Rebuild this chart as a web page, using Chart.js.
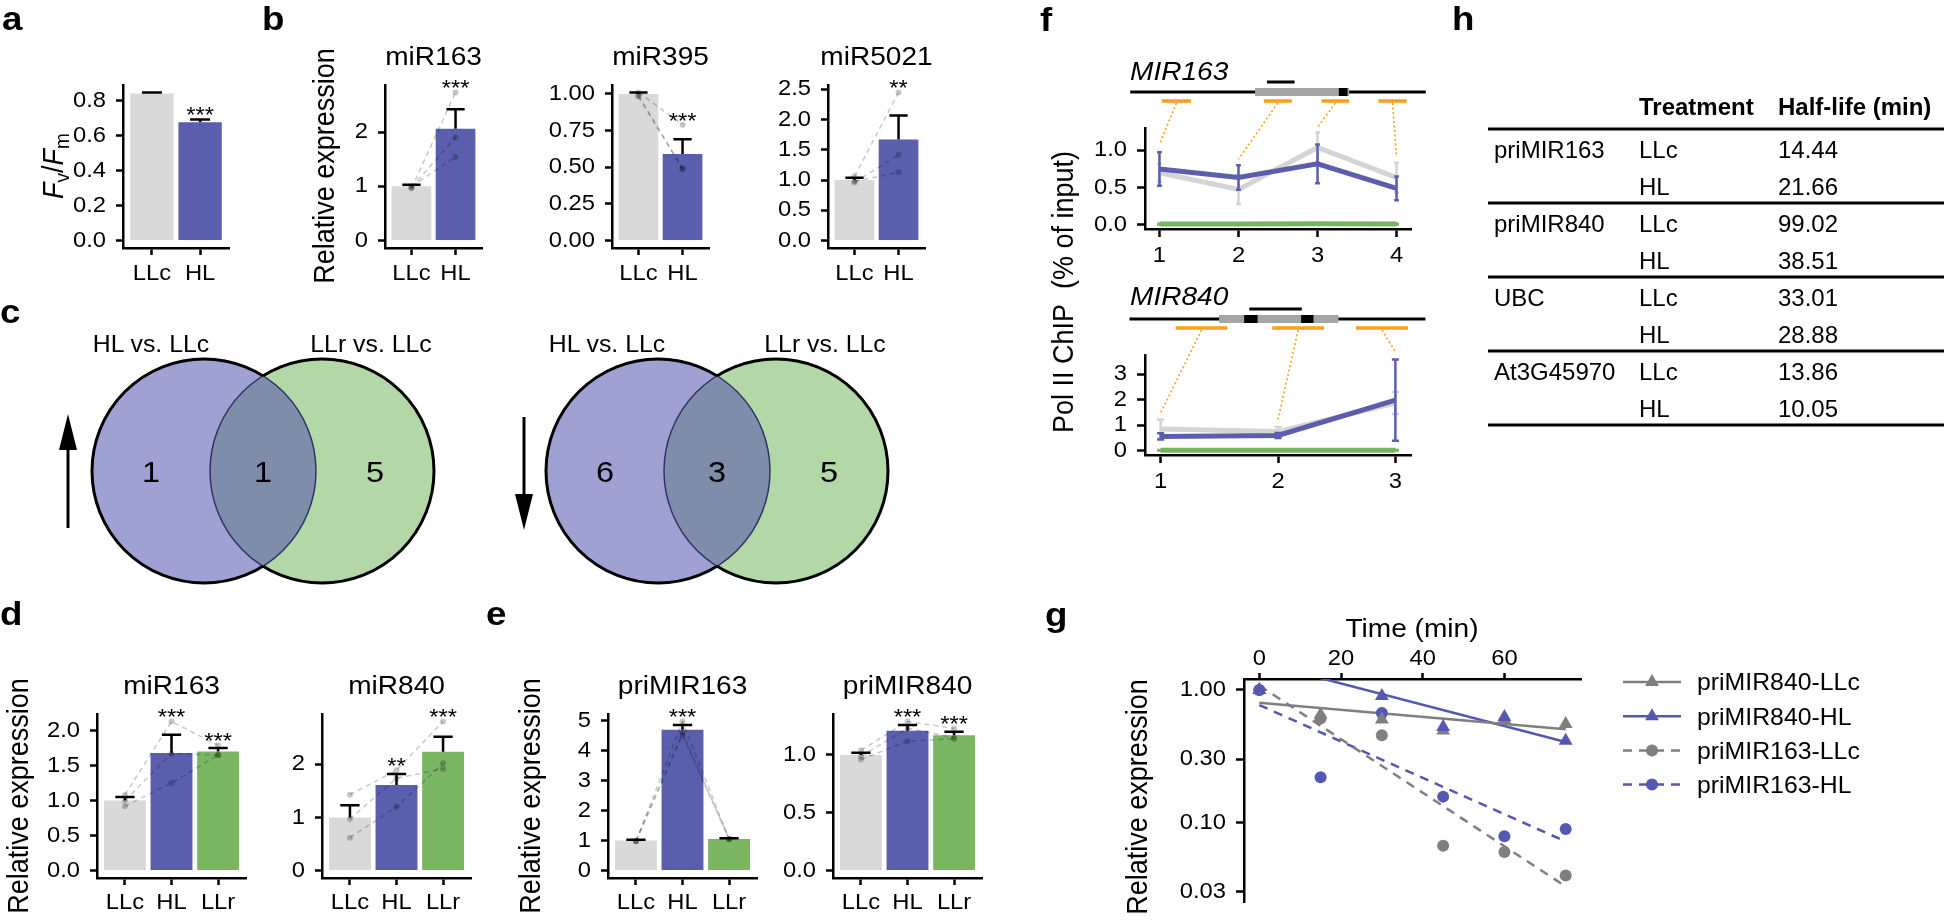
<!DOCTYPE html>
<html lang="en">
<head>
<meta charset="UTF-8">
<title>High light, miRNA expression and pri-miRNA stability</title>
<script src="https://cdn.jsdelivr.net/npm/chart.js"></script>
<style>
  body { margin: 0; background: #fff; }
  #stage { position: relative; width: 1944px; height: 923px; overflow: hidden; background: #fff; }
  #stage canvas { position: absolute; }
  #overlay { position: absolute; left: 0; top: 0; }
  #overlay text { font-family: "Liberation Sans", Arial, sans-serif; fill: #000; }
</style>
</head>
<body>
<div id="stage">
<svg id="overlay" width="1944" height="923" xmlns="http://www.w3.org/2000/svg">
  <line x1="68" y1="528" x2="68" y2="445" stroke="#000" stroke-width="3"/>
  <polygon points="68,414 59,450 77,450" fill="#000"/>
  <line x1="524" y1="417" x2="524" y2="500" stroke="#000" stroke-width="3"/>
  <polygon points="524,530 515,494 533,494" fill="#000"/>
</svg>
</div>
<script>
// ---------------- data ----------------
const grp2 = ['LLc', 'HL'];
const grp3 = ['LLc', 'HL', 'LLr'];

// a: Fv/Fm
const aMean = [0.840, 0.675];
const aSe = [0.006, 0.017];
const aSig = ['', '***'];
const aTicks = [0, 0.2, 0.4, 0.6, 0.8];
const aTickLabels = ['0.0', '0.2', '0.4', '0.6', '0.8'];

// b: mature miRNAs (reps: per group, three replicates)
const bTitles = ['miR163', 'miR395', 'miR5021'];
const b163Mean = [1.00, 2.06];
const b163Se = [0.03, 0.36];
const b163Reps = [[0.96, 0.98, 1.00], [2.73, 1.90, 1.54]];
const b163Sig = ['', '***'];
const b163Ticks = [0, 1, 2];
const b163TickLabels = ['0', '1', '2'];
const b395Mean = [1.00, 0.59];
const b395Se = [0.01, 0.10];
const b395Reps = [[1.01, 0.98, 0.99], [0.79, 0.49, 0.49]];
const b395Sig = ['', '***'];
const b395Ticks = [0, 0.25, 0.5, 0.75, 1];
const b395TickLabels = ['0.00', '0.25', '0.50', '0.75', '1.00'];
const b5021Mean = [1.00, 1.67];
const b5021Se = [0.04, 0.40];
const b5021Reps = [[1.06, 0.96, 0.98], [2.45, 1.42, 1.13]];
const b5021Sig = ['', '**'];
const b5021Ticks = [0, 0.5, 1, 1.5, 2, 2.5];
const b5021TickLabels = ['0.0', '0.5', '1.0', '1.5', '2.0', '2.5'];

// c: Venn counts [only left, shared, only right]
const vennSets = ['HL vs. LLc', 'LLr vs. LLc'];
const vennUp = [1, 1, 5];
const vennDown = [6, 3, 5];

// d: mature miRNAs incl. recovery
const dTitles = ['miR163', 'miR840'];
const d163Mean = [1.00, 1.68, 1.70];
const d163Se = [0.05, 0.26, 0.05];
const d163Reps = [[1.08, 1.00, 0.92], [2.13, 1.67, 1.25], [1.79, 1.65, 1.65]];
const d163Sig = ['', '***', '***'];
const d163Ticks = [0, 0.5, 1, 1.5, 2];
const d163TickLabels = ['0.0', '0.5', '1.0', '1.5', '2.0'];
const d840Mean = [1.00, 1.61, 2.24];
const d840Se = [0.23, 0.21, 0.28];
const d840Reps = [[1.43, 0.97, 0.62], [1.89, 1.74, 1.20], [2.81, 1.92, 2.02]];
const d840Sig = ['', '**', '***'];
const d840Ticks = [0, 1, 2];
const d840TickLabels = ['0', '1', '2'];

// e: pri-miRNAs
const eTitles = ['priMIR163', 'priMIR840'];
const e163Mean = [1.00, 4.70, 1.05];
const e163Se = [0.03, 0.16, 0.03];
const e163Reps = [[0.98, 0.99, 0.98], [4.98, 4.60, 4.52], [1.05, 1.06, 1.05]];
const e163Sig = ['', '***', ''];
const e163Ticks = [0, 1, 2, 3, 4, 5];
const e163TickLabels = ['0', '1', '2', '3', '4', '5'];
const e840Mean = [1.00, 1.21, 1.17];
const e840Se = [0.02, 0.05, 0.03];
const e840Reps = [[1.04, 0.99, 0.96], [1.29, 1.23, 1.12], [1.23, 1.15, 1.14]];
const e840Sig = ['', '***', '***'];
const e840Ticks = [0, 0.5, 1];
const e840TickLabels = ['0.0', '0.5', '1.0'];

// f: Pol II ChIP
const f163Sites = [1, 2, 3, 4];
const f163LLc = [0.70, 0.475, 1.04, 0.635];
const f163LLcSe = [0.12, 0.195, 0.20, 0.20];
const f163HL = [0.75, 0.635, 0.82, 0.49];
const f163HLSe = [0.225, 0.165, 0.26, 0.16];
const f163LLr = [0.01, 0.01, 0.015, 0.01];
const f163LLrSe = [0.005, 0.005, 0.005, 0.005];
const f163Ticks = [0, 0.5, 1];
const f163TickLabels = ['0.0', '0.5', '1.0'];
const f840Sites = [1, 2, 3];
const f840LLc = [0.85, 0.75, 1.87];
const f840LLcSe = [0.37, 0.18, 0.43];
const f840HL = [0.56, 0.595, 1.98];
const f840HLSe = [0.12, 0.10, 1.59];
const f840LLr = [0.02, 0.02, 0.02];
const f840LLrSe = [0.01, 0.01, 0.01];
const f840Ticks = [0, 1, 2, 3];
const f840TickLabels = ['0', '1', '2', '3'];

// gene maps drawn above the ChIP plots (in site units)
const mir163Map = { span: [0.63, 4.37], transcript: [[2.21, 3.40]], hairpin: [[3.27, 3.38]], probe: [2.36, 2.71],
  amplicons: [[1.03, 1.40], [2.32, 2.675], [3.05, 3.40], [3.77, 4.13]], reach: [1.08, 0.88, 1.31, 0.91] };
const mir840Map = { span: [0.735, 3.256], transcript: [[1.498, 2.515]], hairpin: [[1.712, 1.826], [2.197, 2.302]], probe: [1.755, 2.203],
  amplicons: [[1.128, 1.57], [1.951, 2.393], [2.664, 3.108]], reach: [1.48, 1.22, 3.87] };

// g: decay after cordycepin
const gSeries = ['priMIR840-LLc', 'priMIR840-HL', 'priMIR163-LLc', 'priMIR163-HL'];
const gTime = [0, 15, 30, 45, 60, 75];
const g840LLc = [1.00, 0.65, 0.60, 0.494, 0.60, 0.555];
const g840HL = [1.00, null, 0.90, 0.525, 0.625, 0.415];
const g163LLc = [1.00, 0.61, 0.455, 0.067, 0.060, 0.040];
const g163HL = [1.00, 0.22, 0.67, 0.157, 0.079, 0.0895];
const gFitTime = [0, 75];
const g840LLcFit = [0.80, 0.505];
const g840HLFit = [1.62, 0.405];
const g163LLcFit = [1.08, 0.033];
const g163HLFit = [0.77, 0.072];
const gXTicks = [0, 20, 40, 60];
const gXTickLabels = ['0', '20', '40', '60'];
const gYTicks = [0.03, 0.1, 0.3, 1];
const gYTickLabels = ['0.03', '0.10', '0.30', '1.00'];

// h: half-life table
const hHead = ['Treatment', 'Half-life (min)'];
const hGenes = ['priMIR163', 'priMIR840', 'UBC', 'At3G45970'];
const hTreat = ['LLc', 'HL'];
const hHalfLife = [[14.44, 21.66], [99.02, 38.51], [33.01, 28.88], [13.86, 10.05]];

// ---------------- style ----------------
const FONT = '"Liberation Sans", Arial, sans-serif';
const STRETCH = 1.08;            // the printed figure is slightly wider than tall
const GREY = '#d9d9d9', BLUE = '#5a5ead', GREEN = '#7bb662';
const BAR_COLORS = [GREY, BLUE, GREEN];
const REP = 'rgba(0,0,0,0.22)';
const ORANGE = '#f9a11c';
const AXIS = { display: true, color: '#000', width: 2.5 };

Chart.defaults.font.family = FONT;
Chart.defaults.font.size = 22;
Chart.defaults.color = '#000';
Chart.defaults.animation = false;
Chart.defaults.responsive = false;
Chart.defaults.events = [];
Chart.defaults.layout.autoPadding = false;
Chart.defaults.plugins.legend.display = false;
Chart.defaults.plugins.tooltip.enabled = false;

// widen tick labels the same way as the rest of the lettering
Chart.register({
  id: 'stretchLabels',
  beforeDraw(chart) {
    Object.values(chart.scales).forEach(s => {
      if (s._stretched) return;
      const orig = s.drawLabels;
      s.drawLabels = function (area) {
        const ctx = this.ctx, rot = CanvasRenderingContext2D.prototype.rotate;
        ctx.rotate = function (a) { rot.call(this, a); this.scale(STRETCH, 1); };
        try { orig.call(this, area); } finally { delete ctx.rotate; }
      };
      s._stretched = true;
    });
  }
});

const stage = document.getElementById('stage');
const overlay = document.getElementById('overlay');

function makeCanvas(box, m) {
  const cv = document.createElement('canvas');
  cv.width = box.r - box.l + m.l + m.r;
  cv.height = box.b - box.t + m.t + m.b;
  cv.style.left = (box.l - m.l) + 'px';
  cv.style.top = (box.t - m.t) + 'px';
  stage.insertBefore(cv, overlay);
  return cv;
}

function svgEl(tag, attrs, text) {
  const e = document.createElementNS('http://www.w3.org/2000/svg', tag);
  for (const k in attrs) e.setAttribute(k, attrs[k]);
  if (text != null) e.textContent = text;
  overlay.appendChild(e);
  return e;
}

function txt(x, y, str, attrs, rot, sx) {
  const tr = `translate(${x},${y}) scale(${sx || STRETCH},1)` + (rot ? ` rotate(${rot})` : '');
  return svgEl('text', Object.assign({ x: 0, y: 0, transform: tr }, attrs || {}), str);
}

function canvasText(ctx, s, x, y, font) {
  ctx.save();
  ctx.font = font;
  ctx.fillStyle = '#000';
  ctx.textAlign = 'center';
  ctx.textBaseline = 'alphabetic';
  ctx.translate(x, y);
  ctx.scale(STRETCH, 1);
  ctx.fillText(s, 0, 0);
  ctx.restore();
}

function tickGrid(len) {
  return { display: true, drawOnChartArea: false, drawTicks: true, tickLength: len, tickWidth: 2.5, tickColor: '#000', offset: false };
}

function fixedAxis(type, min, max, values, labels, size, tl, pad, extra) {
  const horiz = extra && extra.horizontal;
  return Object.assign({
    type, min, max, bounds: 'data', offset: false,
    afterBuildTicks: s => { s.ticks = values.map(v => ({ value: v })); },
    afterFit: s => { if (horiz) s.height = size; else s.width = size; },
    ticks: { autoSkip: false, maxRotation: 0, padding: pad, callback: (v, i) => labels[i], font: { size: 22, lineHeight: 1 } },
    grid: tickGrid(tl),
    border: AXIS
  }, extra || {});
}

// ---------------- lettering ----------------
[['a', 2, 30], ['b', 262, 30], ['c', 0, 323], ['d', 0, 625], ['e', 486, 625], ['f', 1040, 31], ['g', 1045, 626], ['h', 1452, 30]]
  .forEach(([s, x, y]) => txt(x, y, s, { 'font-size': 34, 'font-weight': 'bold' }));
const yTitle = { 'font-size': 27, 'text-anchor': 'middle' };
txt(63, 166, '', yTitle, -90).innerHTML =
  '<tspan font-style="italic">F</tspan><tspan font-size="19" dy="6">v</tspan><tspan dy="-6">/</tspan><tspan font-style="italic">F</tspan><tspan font-size="19" dy="6">m</tspan>';
txt(334, 166, 'Relative expression', yTitle, -90);
txt(28, 796, 'Relative expression', yTitle, -90);
txt(540, 796, 'Relative expression', yTitle, -90);
txt(1073, 292, 'Pol II ChIP\u00a0\u00a0(% of input)', yTitle, -90);
txt(1147, 797, 'Relative expression', yTitle, -90);
txt(1130, 80, 'MIR163', { 'font-size': 26, 'font-style': 'italic' });
txt(1130, 305, 'MIR840', { 'font-size': 26, 'font-style': 'italic' });
txt(1412, 637, 'Time (min)', { 'font-size': 26, 'text-anchor': 'middle' });
[[151, 0], [371, 1], [607, 0], [825, 1]].forEach(([x, k]) => txt(x, 352, vennSets[k], { 'font-size': 23, 'text-anchor': 'middle' }));

// ---------------- bar panels (a, b, d, e) ----------------
function barErrPlugin(mean, se) {
  return {
    id: 'barErr',
    afterDatasetDraw(chart, args) {
      if (args.meta.type !== 'bar') return;
      const ctx = chart.ctx, ys = chart.scales.y;
      ctx.save();
      ctx.strokeStyle = '#000';
      ctx.lineWidth = 2.5;
      args.meta.data.forEach((el, i) => {
        const yt = ys.getPixelForValue(mean[i] + se[i]);
        const hw = el.width * 0.23;
        ctx.beginPath();
        ctx.moveTo(el.x, el.y); ctx.lineTo(el.x, yt);
        ctx.moveTo(el.x - hw, yt); ctx.lineTo(el.x + hw, yt);
        ctx.stroke();
      });
      ctx.restore();
    }
  };
}

function sigPlugin(mean, se, reps, sig) {
  return {
    id: 'sig',
    afterDatasetsDraw(chart) {
      const ys = chart.scales.y, bars = chart.getDatasetMeta(0).data;
      sig.forEach((s, i) => {
        if (!s) return;
        const top = Math.max(mean[i] + se[i], ...(reps[i] || []));
        canvasText(chart.ctx, s, bars[i].x, ys.getPixelForValue(top) + 3, '22px ' + FONT);
      });
    }
  };
}

function barPanel(box, cats, mean, se, reps, sig, ticks, tickLabels, xPad, title) {
  const m = { l: 100, t: 30, r: 24, b: 50 };
  const cv = makeCanvas(box, m);
  let top = 0;
  cats.forEach((c, i) => { top = Math.max(top, mean[i] + se[i], ...(reps[i] || [])); });
  const sets = [{
    type: 'bar', order: 2,
    data: cats.map((c, i) => ({ x: i + 1, y: mean[i] })),
    backgroundColor: BAR_COLORS.slice(0, cats.length),
    barPercentage: 0.9, categoryPercentage: 1
  }];
  const nRep = reps.length ? reps[0].length : 0;
  for (let r = 0; r < nRep; r++) {
    sets.push({
      type: 'line', order: 1,
      data: cats.map((c, i) => ({ x: i + 1, y: reps[i][r] })),
      borderColor: REP, borderWidth: 1.5, borderDash: [5, 4], tension: 0,
      pointRadius: 3, pointBackgroundColor: REP, pointBorderWidth: 0
    });
  }
  if (title) txt((box.l + box.r) / 2, box.t - 20, title, { 'font-size': 26, 'text-anchor': 'middle' });
  return new Chart(cv, {
    type: 'bar',
    data: { datasets: sets },
    options: {
      layout: { padding: { top: m.t, right: m.r, left: 0, bottom: 0 } },
      scales: {
        x: fixedAxis('linear', 0.4, cats.length + 0.6, cats.map((c, i) => i + 1), cats, m.b, 7, xPad, { horizontal: true, grid: tickGrid(7) }),
        y: fixedAxis('linear', -0.05 * top, 1.05 * top, ticks, tickLabels, m.l, 7, 10)
      }
    },
    plugins: [barErrPlugin(mean, se), sigPlugin(mean, se, reps, sig)]
  });
}

barPanel({ l: 123, t: 85, r: 229, b: 248 }, grp2, aMean, aSe, [], aSig, aTicks, aTickLabels, 8);
barPanel({ l: 385, t: 85, r: 482, b: 248 }, grp2, b163Mean, b163Se, b163Reps, b163Sig, b163Ticks, b163TickLabels, 8, bTitles[0]);
barPanel({ l: 612, t: 85, r: 709, b: 248 }, grp2, b395Mean, b395Se, b395Reps, b395Sig, b395Ticks, b395TickLabels, 8, bTitles[1]);
barPanel({ l: 828, t: 85, r: 925, b: 248 }, grp2, b5021Mean, b5021Se, b5021Reps, b5021Sig, b5021Ticks, b5021TickLabels, 8, bTitles[2]);
barPanel({ l: 97, t: 714, r: 246, b: 878 }, grp3, d163Mean, d163Se, d163Reps, d163Sig, d163Ticks, d163TickLabels, 7, dTitles[0]);
barPanel({ l: 322, t: 714, r: 471, b: 878 }, grp3, d840Mean, d840Se, d840Reps, d840Sig, d840Ticks, d840TickLabels, 7, dTitles[1]);
barPanel({ l: 608, t: 714, r: 757, b: 878 }, grp3, e163Mean, e163Se, e163Reps, e163Sig, e163Ticks, e163TickLabels, 7, eTitles[0]);
barPanel({ l: 833, t: 714, r: 982, b: 878 }, grp3, e840Mean, e840Se, e840Reps, e840Sig, e840Ticks, e840TickLabels, 7, eTitles[1]);

// ---------------- c: Venn diagrams ----------------
function vennPlugin(counts) {
  return {
    id: 'venn',
    afterDatasetsDraw(chart) {
      const ctx = chart.ctx, els = chart.getDatasetMeta(0).data;
      const a = els[0], b = els[1], ra = a.options.radius, rb = b.options.radius;
      const circ = (e, r) => { ctx.beginPath(); ctx.arc(e.x, e.y, r, 0, Math.PI * 2); };
      ctx.save(); circ(a, ra); ctx.clip(); circ(b, rb);
      ctx.fillStyle = '#7f8caa'; ctx.fill();
      ctx.strokeStyle = '#2f3468'; ctx.lineWidth = 1.5; ctx.stroke(); ctx.restore();
      ctx.save(); circ(b, rb); ctx.clip(); circ(a, ra);
      ctx.strokeStyle = '#2f3468'; ctx.lineWidth = 1.5; ctx.stroke(); ctx.restore();
      [[a, ra, b, rb], [b, rb, a, ra]].forEach(([p, rp, q, rq]) => {
        ctx.save();
        ctx.beginPath();
        ctx.rect(0, 0, chart.width, chart.height);
        ctx.arc(q.x, q.y, rq, 0, Math.PI * 2);
        ctx.clip('evenodd');
        circ(p, rp);
        ctx.strokeStyle = '#000'; ctx.lineWidth = 3; ctx.stroke();
        ctx.restore();
      });
      const xs = [((a.x - ra) + (b.x - rb)) / 2, ((b.x - rb) + (a.x + ra)) / 2, ((a.x + ra) + (b.x + rb)) / 2];
      counts.forEach((n, i) => canvasText(ctx, String(n), xs[i], a.y + 11, '30px ' + FONT));
    }
  };
}

function vennPanel(box, counts) {
  const cv = makeCanvas(box, { l: 0, t: 0, r: 0, b: 0 });
  return new Chart(cv, {
    type: 'bubble',
    data: { datasets: [{ data: [{ x: -0.5, y: 0, r: 112 }, { x: 0.5, y: 0, r: 112 }], backgroundColor: ['#a0a1d3', '#b3d7a6'], borderWidth: 0, clip: false }] },
    options: {
      layout: { padding: 0, autoPadding: false },
      scales: { x: { type: 'linear', min: -1.5, max: 1.5, display: false }, y: { type: 'linear', min: -1, max: 1, display: false } }
    },
    plugins: [vennPlugin(counts)]
  });
}
vennPanel({ l: 86, t: 353, r: 440, b: 589 }, vennUp);
vennPanel({ l: 540, t: 353, r: 894, b: 589 }, vennDown);

// ---------------- f: Pol II ChIP ----------------
function chipErrPlugin(groups) {
  return {
    id: 'chipErr',
    afterDatasetDraw(chart, args) {
      const g = groups[args.index], ctx = chart.ctx, xs = chart.scales.x, ys = chart.scales.y;
      ctx.save();
      ctx.strokeStyle = g.color; ctx.lineWidth = 2.5;
      g.mean.forEach((v, i) => {
        const x = xs.getPixelForValue(g.x[i]);
        const hw = xs.getPixelForValue(g.x[i] + 0.03) - x;
        const y1 = ys.getPixelForValue(v - g.se[i]), y2 = ys.getPixelForValue(v + g.se[i]);
        ctx.beginPath();
        ctx.moveTo(x, y1); ctx.lineTo(x, y2);
        ctx.moveTo(x - hw, y1); ctx.lineTo(x + hw, y1);
        ctx.moveTo(x - hw, y2); ctx.lineTo(x + hw, y2);
        ctx.stroke();
      });
      ctx.restore();
    }
  };
}

function genePlugin(map, sites) {
  return {
    id: 'gene',
    afterDraw(chart) {
      const ctx = chart.ctx, xs = chart.scales.x, ys = chart.scales.y, top = chart.chartArea.top;
      const px = v => xs.getPixelForValue(v);
      const yLine = top - 36, yProbe = top - 46, yAmp = top - 27;
      ctx.save();
      ctx.strokeStyle = ORANGE; ctx.lineWidth = 1.6; ctx.setLineDash([2, 2.5]);
      map.amplicons.forEach((a, i) => {
        ctx.beginPath();
        ctx.moveTo(px((a[0] + a[1]) / 2), yAmp + 2);
        ctx.lineTo(px(sites[i]), ys.getPixelForValue(map.reach[i]));
        ctx.stroke();
      });
      ctx.setLineDash([]);
      ctx.strokeStyle = '#000'; ctx.lineWidth = 3;
      ctx.beginPath(); ctx.moveTo(px(map.span[0]), yLine); ctx.lineTo(px(map.span[1]), yLine); ctx.stroke();
      ctx.fillStyle = '#a5a5a5';
      map.transcript.forEach(s => ctx.fillRect(px(s[0]), yLine - 4, px(s[1]) - px(s[0]), 8));
      ctx.fillStyle = '#000';
      map.hairpin.forEach(s => ctx.fillRect(px(s[0]), yLine - 4, px(s[1]) - px(s[0]), 8));
      ctx.beginPath(); ctx.moveTo(px(map.probe[0]), yProbe); ctx.lineTo(px(map.probe[1]), yProbe); ctx.stroke();
      ctx.strokeStyle = ORANGE; ctx.lineWidth = 3.5;
      map.amplicons.forEach(a => { ctx.beginPath(); ctx.moveTo(px(a[0]), yAmp); ctx.lineTo(px(a[1]), yAmp); ctx.stroke(); });
      ctx.restore();
    }
  };
}

function chipPanel(box, sites, groups, ticks, tickLabels, map) {
  const m = { l: 100, t: 75, r: 30, b: 48 };
  const cv = makeCanvas(box, m);
  let lo = Infinity, hi = -Infinity;
  groups.forEach(g => g.mean.forEach((v, i) => { lo = Math.min(lo, v - g.se[i]); hi = Math.max(hi, v + g.se[i]); }));
  const yPad = 0.05 * (hi - lo);
  const xLo = sites[0] - 0.03, xHi = sites[sites.length - 1] + 0.03, xPad = 0.05 * (xHi - xLo);
  groups.forEach(g => { g.x = sites; });
  return new Chart(cv, {
    type: 'line',
    data: {
      datasets: groups.map(g => ({
        data: sites.map((s, i) => ({ x: s, y: g.mean[i] })),
        borderColor: g.color, borderWidth: 5, pointRadius: 0, tension: 0, order: g.order
      }))
    },
    options: {
      layout: { padding: { top: m.t, right: m.r, left: 0, bottom: 0 } },
      scales: {
        x: fixedAxis('linear', xLo - xPad, xHi + xPad, sites, sites.map(String), m.b, 8, 8, { horizontal: true, grid: tickGrid(8) }),
        y: fixedAxis('linear', lo - yPad, hi + yPad, ticks, tickLabels, m.l, 8, 10)
      }
    },
    plugins: [chipErrPlugin(groups), genePlugin(map, sites)]
  });
}

chipPanel({ l: 1145, t: 128, r: 1411, b: 229 }, f163Sites, [
  { mean: f163HL, se: f163HLSe, color: BLUE, order: 0 },
  { mean: f163LLc, se: f163LLcSe, color: '#d4d4d4', order: 1 },
  { mean: f163LLr, se: f163LLrSe, color: '#77b462', order: 2 }
], f163Ticks, f163TickLabels, mir163Map);

chipPanel({ l: 1145, t: 355, r: 1411, b: 455 }, f840Sites, [
  { mean: f840HL, se: f840HLSe, color: BLUE, order: 0 },
  { mean: f840LLc, se: f840LLcSe, color: '#d4d4d4', order: 1 },
  { mean: f840LLr, se: f840LLrSe, color: '#77b462', order: 2 }
], f840Ticks, f840TickLabels, mir840Map);

// ---------------- g: decay ----------------
const G_GREY = '#7f7f7f', G_BLUE = '#5558b0';
const gStyle = [
  { color: G_GREY, shape: 'triangle', r: 8, dash: [] },
  { color: G_BLUE, shape: 'triangle', r: 8, dash: [] },
  { color: G_GREY, shape: 'circle', r: 6, dash: [9, 7] },
  { color: G_BLUE, shape: 'circle', r: 6, dash: [9, 7] }
];
(function () {
  const box = { l: 1244, t: 679, r: 1581, b: 915 };
  const m = { l: 130, t: 50, r: 10, b: 8 };
  const cv = makeCanvas(box, m);
  const pts = [g840LLc, g840HL, g163LLc, g163HL];
  const fits = [g840LLcFit, g840HLFit, g163LLcFit, g163HLFit];
  const pointOrder = [1, 0, 3, 2];
  const sets = [];
  pts.forEach((vals, k) => sets.push({
    data: gTime.map((t, i) => ({ x: t, y: vals[i] })),
    showLine: false, pointStyle: gStyle[k].shape, pointRadius: gStyle[k].r,
    pointBackgroundColor: gStyle[k].color, pointBorderWidth: 0, order: pointOrder[k]
  }));
  fits.forEach((vals, k) => sets.push({
    data: gFitTime.map((t, i) => ({ x: t, y: vals[i] })),
    showLine: true, pointRadius: 0, borderColor: gStyle[k].color, borderWidth: 2.5,
    borderDash: gStyle[k].dash, tension: 0, order: 5
  }));
  new Chart(cv, {
    type: 'scatter',
    data: { datasets: sets },
    options: {
      layout: { padding: { top: 0, right: m.r, left: 0, bottom: m.b } },
      scales: {
        x: fixedAxis('linear', -3.75, 78.75, gXTicks, gXTickLabels, m.t, 6, 3, { horizontal: true, position: 'top', grid: tickGrid(6) }),
        y: fixedAxis('logarithmic', 0.0252, 1.21, gYTicks, gYTickLabels, m.l, 8, 10)
      }
    }
  });

  // legend
  gSeries.forEach((name, k) => {
    const cy = 682 + k * 34.2, st = gStyle[k];
    svgEl('line', { x1: 1623, y1: cy, x2: 1681, y2: cy, stroke: st.color, 'stroke-width': 2.5, 'stroke-dasharray': st.dash.length ? '9 7' : 'none' });
    if (st.shape === 'triangle') {
      svgEl('polygon', { points: `1652,${cy - 8} ${1652 + 6.93},${cy + 4} ${1652 - 6.93},${cy + 4}`, fill: st.color });
    } else {
      svgEl('circle', { cx: 1652, cy: cy, r: 6, fill: st.color });
    }
    txt(1697, cy + 8.3, name, { 'font-size': 23 });
  });
})();

// ---------------- h: table ----------------
(function () {
  const cols = [1494, 1639, 1778];
  txt(cols[1], 115, hHead[0], { 'font-size': 24, 'font-weight': 'bold' }, 0, 1);
  txt(cols[2], 115, hHead[1], { 'font-size': 24, 'font-weight': 'bold' }, 0, 1);
  for (let k = 0; k <= hGenes.length; k++) {
    svgEl('line', { x1: 1488, y1: 129 + k * 74, x2: 1944, y2: 129 + k * 74, stroke: '#000', 'stroke-width': 3 });
  }
  hGenes.forEach((g, k) => {
    hTreat.forEach((t, j) => {
      const y = 158 + k * 74 + j * 36.5;
      if (j === 0) txt(cols[0], y, g, { 'font-size': 24 }, 0, 1);
      txt(cols[1], y, t, { 'font-size': 24 }, 0, 1);
      txt(cols[2], y, hHalfLife[k][j].toFixed(2), { 'font-size': 24 }, 0, 1);
    });
  });
})();
</script>
</body>
</html>
